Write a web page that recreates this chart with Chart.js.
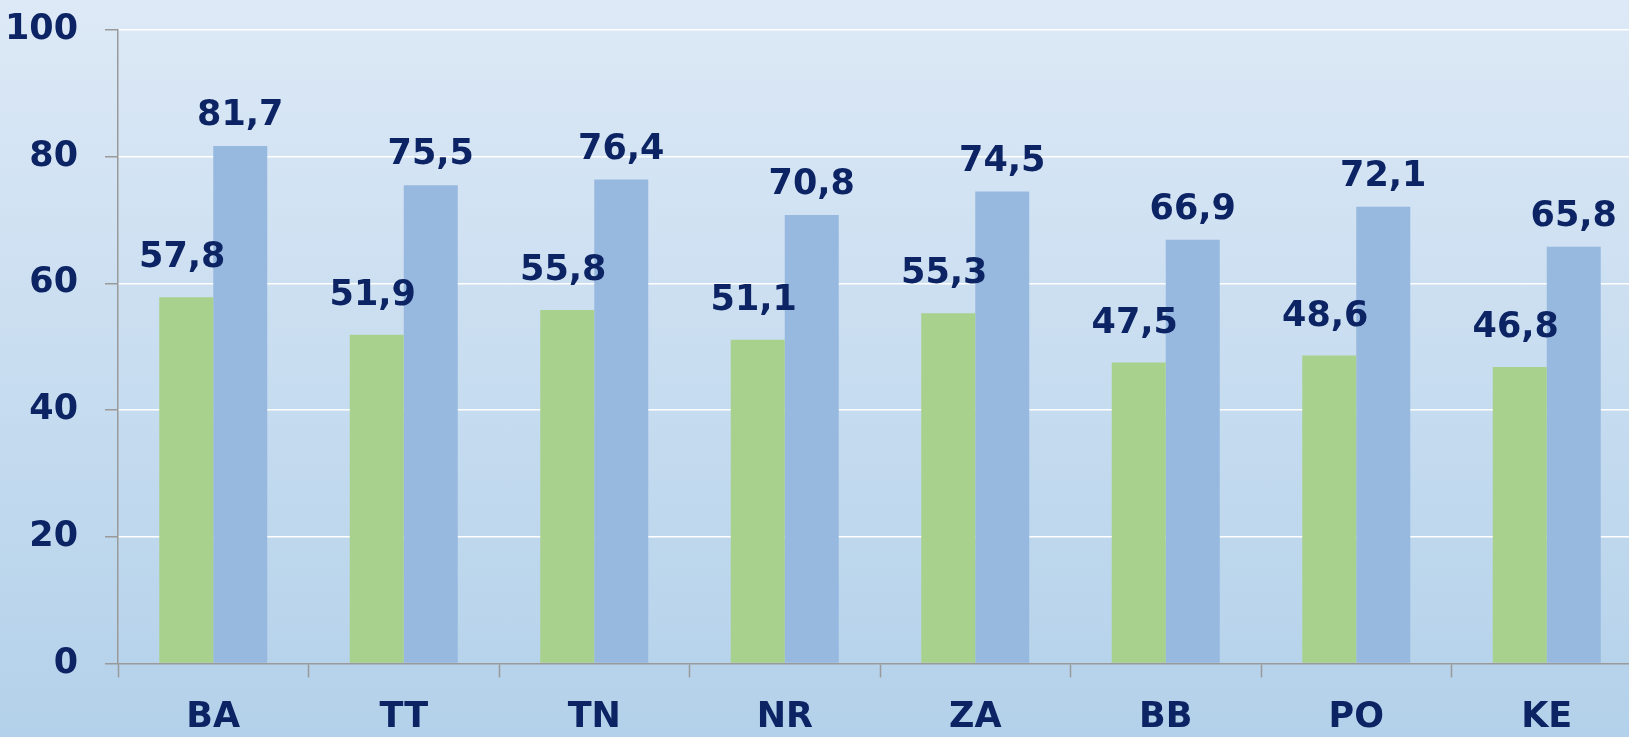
<!DOCTYPE html>
<html>
<head>
<meta charset="utf-8">
<script src="https://cdn.jsdelivr.net/npm/chart.js@4.4.0/dist/chart.umd.min.js"></script>
<style>
  html, body { margin: 0; padding: 0; overflow: hidden; }
  body { width: 1629px; height: 737px; background: linear-gradient(#dde9f6, #b3d1ea); }
  #wrap { width: 1642px; height: 737px; position: relative; }
</style>
</head>
<body>
<div id="wrap"><canvas id="grafico"></canvas></div>
<script>
const regiones = ["BA", "TT", "TN", "NR", "ZA", "BB", "PO", "KE"];
const serieVerde = [57.8, 51.9, 55.8, 51.1, 55.3, 47.5, 48.6, 46.8];
const serieAzul = [81.7, 75.5, 76.4, 70.8, 74.5, 66.9, 72.1, 65.8];
const ejeY = { min: 0, max: 100, paso: 20 };

const colorTexto = "#0c2464";
const fuente = "'DejaVu Sans', sans-serif";

// etiquetas encima de cada barra
const etiquetasPlugin = {
  id: "etiquetas",
  afterDatasetsDraw(chart) {
    const ctx = chart.ctx;
    ctx.save();
    ctx.font = "bold 35px " + fuente;
    ctx.fillStyle = colorTexto;
    ctx.textAlign = "center";
    ctx.textBaseline = "alphabetic";
    chart.data.datasets.forEach((ds, i) => {
      const meta = chart.getDatasetMeta(i);
      const dx = i === 0 ? -4 : 0;
      const dy = i === 0 ? 30 : 21;
      meta.data.forEach((bar, j) => {
        const texto = ds.data[j].toFixed(1).replace(".", ",");
        ctx.fillText(texto, bar.x + dx, bar.y - dy);
      });
    });
    ctx.restore();
  }
};

const grafico = document.getElementById("grafico");
new Chart(grafico, {
  type: "bar",
  data: {
    labels: regiones,
    datasets: [
      { label: "A", data: serieVerde, backgroundColor: "#a9d18e", categoryPercentage: 0.567, barPercentage: 1 },
      { label: "B", data: serieAzul, backgroundColor: "#98b9df", categoryPercentage: 0.567, barPercentage: 1 }
    ]
  },
  options: {
    responsive: true,
    maintainAspectRatio: false,
    animation: false,
    layout: { padding: { top: 30, left: 0, right: 0, bottom: 0 } },
    plugins: { legend: { display: false }, tooltip: { enabled: false } },
    scales: {
      x: {
        afterFit: (s) => { s.height = 73.5; },
        grid: { drawOnChartArea: false, drawTicks: true, tickLength: 14, tickColor: "#9a9a9a", tickWidth: 1.5, offset: true },
        border: { color: "#9a9a9a", width: 1.5 },
        ticks: { color: colorTexto, font: { family: fuente, size: 35, weight: "bold" }, padding: 19 }
      },
      y: {
        min: ejeY.min,
        max: ejeY.max,
        afterFit: (s) => { s.width = 118; s.paddingTop = 0; },
        grid: {
          color: (c) => c.tick && c.tick.value === 0 ? "rgba(0,0,0,0)" : "#ffffff",
          lineWidth: 1.5,
          drawTicks: true,
          tickLength: 13,
          tickColor: "#9a9a9a",
          tickWidth: 1.5
        },
        border: { color: "#9a9a9a", width: 1.5 },
        ticks: { stepSize: ejeY.paso, color: colorTexto, font: { family: fuente, size: 35, weight: "bold" }, padding: 27 }
      }
    }
  },
  plugins: [etiquetasPlugin]
});
</script>
</body>
</html>
